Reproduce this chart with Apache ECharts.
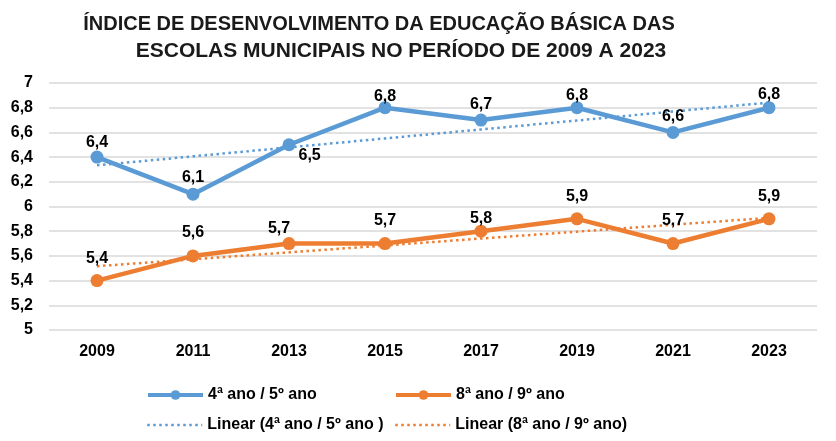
<!DOCTYPE html>
<html>
<head>
<meta charset="utf-8">
<script src="https://cdn.jsdelivr.net/npm/echarts@6/dist/echarts.min.js"></script>
<style>
  html, body { margin: 0; padding: 0; background: #fff; }
  #chart { width: 836px; height: 441px; }
</style>
</head>
<body>
<div id="chart"></div>
<script>
// dados do gráfico
const anos = ['2009', '2011', '2013', '2015', '2017', '2019', '2021', '2023'];
const anosIniciais = [6.4, 6.1, 6.5, 6.8, 6.7, 6.8, 6.6, 6.8];
const anosFinais = [5.4, 5.6, 5.7, 5.7, 5.8, 5.9, 5.7, 5.9];

const azul = '#5B9BD5';
const laranja = '#ED7D31';
const fonte = 'Arial, "Liberation Sans", sans-serif';

// tendência linear (mínimos quadrados, como no Excel)
function tendencia(valores) {
    const n = valores.length;
    const mx = (n - 1) / 2;
    const my = valores.reduce((a, b) => a + b, 0) / n;
    let sxy = 0, sxx = 0;
    valores.forEach((v, i) => {
        sxy += (i - mx) * (v - my);
        sxx += (i - mx) * (i - mx);
    });
    const b = sxy / sxx;
    return valores.map((v, i) => +(my + b * (i - mx)).toFixed(4));
}

const fmt = v => String(v).replace('.', ',');

const rotulo = {
    show: true,
    fontFamily: fonte, fontWeight: 'bold', fontSize: 16, color: '#000',
    formatter: p => fmt(p.value)
};

// ajustes finos da posição dos rótulos (como o Excel os colocou)
const ajusteAzul = [[0, 0], [0, -2], null, [0, 3], [0, -1], [0, 2], [0, -1], [0, 1]];
const ajusteLaranja = [[0, 0], [0, -1], [-10, 8], [0, 0], [0, 10], [0, 0], [0, 0], [0, 0]];

const chart = echarts.init(document.getElementById('chart'));

const legenda = (item, left, top) => ({
    data: [item],
    left: left,
    top: top,
    itemWidth: 55,
    itemHeight: 12,
    textStyle: { fontFamily: fonte, fontWeight: 'bold', fontSize: 16, color: '#000' }
});

chart.setOption({
    animation: false,
    title: [
        {
            text: 'ÍNDICE DE DESENVOLVIMENTO DA EDUCAÇÃO BÁSICA DAS',
            left: 374,
            textAlign: 'center',
            top: 9,
            textStyle: { fontFamily: fonte, fontWeight: 'bold', fontSize: 20, color: '#1a1a1a' }
        },
        {
            text: 'ESCOLAS MUNICIPAIS NO PERÍODO DE 2009 A 2023',
            left: 396,
            textAlign: 'center',
            top: 36,
            textStyle: { fontFamily: fonte, fontWeight: 'bold', fontSize: 21, color: '#1a1a1a' }
        }
    ],
    legend: [
        legenda({ name: '4ª ano / 5º ano', lineStyle: { width: 4 } }, 141, 382),
        legenda({ name: '8ª ano / 9º ano', lineStyle: { width: 4 } }, 389, 382),
        legenda({ name: 'Linear (4ª ano / 5º ano )', itemStyle: { opacity: 0 }, lineStyle: { width: 2.5 } }, 141, 412),
        legenda({ name: 'Linear (8ª ano / 9º ano)', itemStyle: { opacity: 0 }, lineStyle: { width: 2.5 } }, 389, 412)
    ],
    grid: { left: 49, right: 19, top: 83, bottom: 111, containLabel: false },
    xAxis: {
        type: 'category',
        data: anos,
        boundaryGap: true,
        axisLine: { show: false },
        axisTick: { show: false },
        axisLabel: {
            fontFamily: fonte, fontWeight: 'bold', fontSize: 16, color: '#000', margin: 14
        }
    },
    yAxis: {
        type: 'value',
        min: 5,
        max: 7,
        interval: 0.2,
        axisLine: { show: false },
        axisTick: { show: false },
        splitLine: { lineStyle: { color: '#d9d9d9', width: 1.5 } },
        axisLabel: {
            fontFamily: fonte, fontWeight: 'bold', fontSize: 16, color: '#000', margin: 16,
            formatter: v => fmt(+v.toFixed(1))
        }
    },
    series: [
        {
            name: '4ª ano / 5º ano',
            type: 'line',
            data: anosIniciais.map((v, i) => ajusteAzul[i]
                ? { value: v, label: { offset: ajusteAzul[i] } }
                : { value: v, label: { position: 'right', distance: 3, offset: [0, 11] } }),
            symbol: 'circle',
            symbolSize: 13,
            z: 3,
            lineStyle: { color: azul, width: 4.5 },
            itemStyle: { color: azul },
            label: Object.assign({ position: 'top', distance: 0 }, rotulo)
        },
        {
            name: '8ª ano / 9º ano',
            type: 'line',
            data: anosFinais.map((v, i) => ({ value: v, label: { offset: ajusteLaranja[i] } })),
            symbol: 'circle',
            symbolSize: 13,
            z: 3,
            lineStyle: { color: laranja, width: 4.5 },
            itemStyle: { color: laranja },
            label: Object.assign({ position: 'top', distance: 8 }, rotulo)
        },
        {
            name: 'Linear (4ª ano / 5º ano )',
            type: 'line',
            data: tendencia(anosIniciais),
            symbol: 'none',
            z: 2,
            lineStyle: { color: azul, width: 2.5, type: [2.5, 3.5] },
            itemStyle: { color: azul }
        },
        {
            name: 'Linear (8ª ano / 9º ano)',
            type: 'line',
            data: tendencia(anosFinais),
            symbol: 'none',
            z: 2,
            lineStyle: { color: laranja, width: 2.5, type: [2.5, 3.5] },
            itemStyle: { color: laranja }
        }
    ]
});
</script>
</body>
</html>
